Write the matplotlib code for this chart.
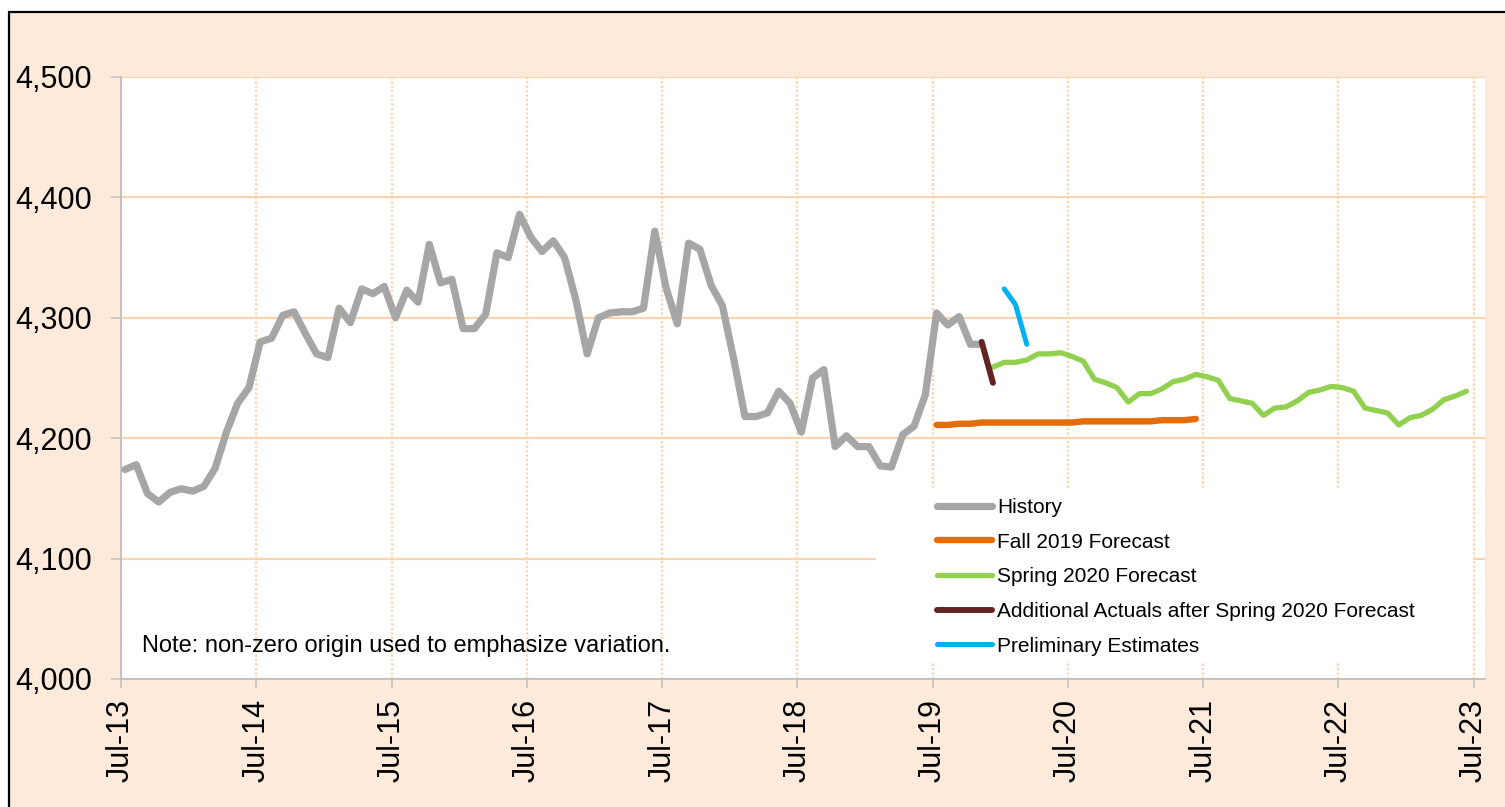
import matplotlib
matplotlib.use("Agg")
import matplotlib.pyplot as plt
from matplotlib.patches import Rectangle

plt.rcParams['font.family'] = ['Liberation Sans', 'DejaVu Sans']

# months counted from Jul-13 (0) to Jul-23 (120)
tick_months = list(range(0, 121, 12))
tick_labels = ['Jul-13', 'Jul-14', 'Jul-15', 'Jul-16', 'Jul-17', 'Jul-18',
               'Jul-19', 'Jul-20', 'Jul-21', 'Jul-22', 'Jul-23']

history_start = 0
history = [4174, 4178, 4154, 4147, 4155, 4158, 4156, 4160, 4175, 4205, 4229, 4242,
           4280, 4283, 4302, 4305, 4287, 4270, 4267, 4308, 4296, 4324, 4320, 4326,
           4300, 4323, 4313, 4361, 4329, 4332, 4291, 4291, 4303, 4354, 4350, 4386,
           4367, 4355, 4364, 4350, 4315, 4270, 4300, 4304, 4305, 4305, 4308, 4372,
           4325, 4295, 4362, 4357, 4327, 4310, 4266, 4218, 4218, 4221, 4239, 4229,
           4205, 4250, 4257, 4193, 4202, 4193, 4193, 4177, 4176, 4203, 4210, 4236,
           4304, 4294, 4301, 4278, 4278]

fall2019_start = 72
fall2019 = [4211, 4211, 4212, 4212, 4213, 4213, 4213, 4213, 4213, 4213, 4213, 4213,
            4213, 4214, 4214, 4214, 4214, 4214, 4214, 4214, 4215, 4215, 4215, 4216]

spring2020_start = 77
spring2020 = [4259, 4263, 4263, 4265, 4270, 4270, 4271, 4268, 4264, 4249, 4246,
              4242, 4230, 4237, 4237, 4241, 4247, 4249, 4253, 4251, 4248, 4233,
              4231, 4229, 4219, 4225, 4226, 4231, 4238, 4240, 4243, 4242, 4239,
              4225, 4223, 4221, 4211, 4217, 4219, 4224, 4232, 4235, 4239]

actuals_start = 76
actuals = [4280, 4246]

prelim_start = 78
prelim = [4324, 4311, 4278]

# data points sit a little after the first of the month
shift = 0.35


def months(start, values):
    return [start + i + shift for i in range(len(values))]


W, H = 1505, 807
fig = plt.figure(figsize=(W / 100, H / 100), dpi=100)
fig.patch.set_facecolor('white')
fig.add_artist(Rectangle((9 / W, -0.05), 1.0, (H - 12) / H + 0.05,
                         transform=fig.transFigure, facecolor='#FDEADA',
                         edgecolor='black', lw=1.6, zorder=0))

ax = fig.add_axes([121 / W, 1 - 679 / H, (1485 - 121) / W, (679 - 77) / H])
ax.set_facecolor('white')
ax.set_axisbelow(True)

style = dict(solid_capstyle='round', solid_joinstyle='round', zorder=3)
l1, = ax.plot(months(history_start, history), history, color='#A6A6A6', lw=5.2,
              label='History', **style)
l2, = ax.plot(months(fall2019_start, fall2019), fall2019, color='#E46C0A', lw=4.6,
              label='Fall 2019 Forecast', **style)
l3, = ax.plot(months(spring2020_start, spring2020), spring2020, color='#92D050', lw=3.8,
              label='Spring 2020 Forecast', **style)
l4, = ax.plot(months(actuals_start, actuals), actuals, color='#632523', lw=4.3,
              label='Additional Actuals after Spring 2020 Forecast', **style)
l5, = ax.plot(months(prelim_start, prelim), prelim, color='#00B0F0', lw=3.6,
              label='Preliminary Estimates', **style)

ax.set_xlim(0, 121)
ax.set_ylim(4000, 4500)
ax.set_xticks(tick_months)
ax.set_xticklabels(tick_labels, rotation=90, fontsize=22)
ax.set_yticks(range(4000, 4501, 100))
ax.set_yticklabels([f'{v:,}' for v in range(4000, 4501, 100)], fontsize=22)

ax.tick_params(axis='y', length=7, width=1.1, color='#BFBFBF', pad=14)
ax.tick_params(axis='x', length=6.5, width=1.1, color='#BFBFBF', pad=8)

ax.yaxis.grid(True, color='#FBD3AE', lw=1.6, ls='-')
ax.xaxis.grid(True, color='#FBD3AE', lw=1.6, ls=(0, (1, 1)))

for side in ['top', 'right']:
    ax.spines[side].set_visible(False)
for side in ['left', 'bottom']:
    ax.spines[side].set_color('#BFBFBF')
    ax.spines[side].set_linewidth(1.3)

# white box behind the legend hides the gridlines there
ax.add_patch(Rectangle((0.5535, 0.0266), 0.4377, 0.2907, transform=ax.transAxes,
                       facecolor='white', edgecolor='none', zorder=1))

ax.legend(handles=[l1, l2, l3, l4, l5], loc='upper left',
          bbox_to_anchor=(937 / W, 1 - 498 / H), bbox_transform=fig.transFigure,
          frameon=False, fontsize=15, handlelength=2.65, handletextpad=0.22,
          labelspacing=0.75, borderpad=0, borderaxespad=0)

ax.text(1.9, 4027, 'Note: non-zero origin used to emphasize variation.',
        fontsize=17, va='center', ha='left', zorder=4)

fig.savefig('out.png', dpi=100)
